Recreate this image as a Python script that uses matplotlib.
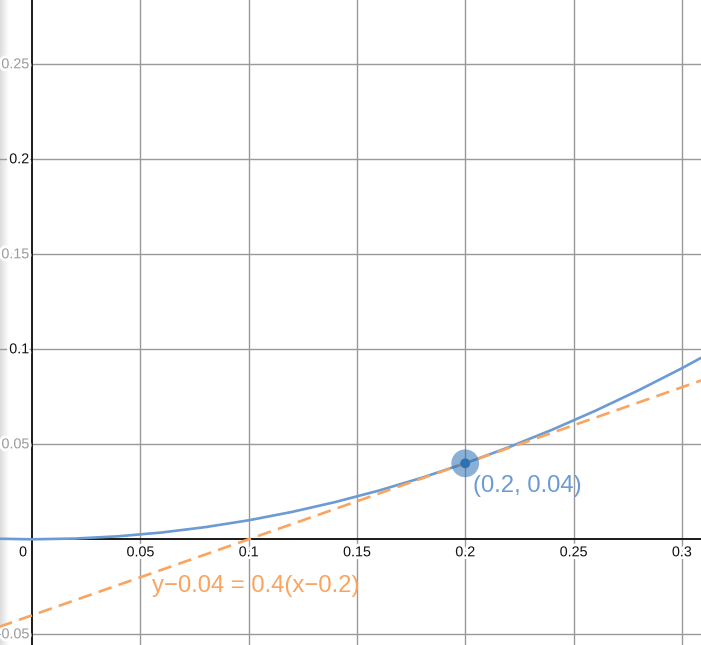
import matplotlib.pyplot as plt
import matplotlib.patheffects as pe
import numpy as np

curve_x = [-0.02, 0.0, 0.02, 0.04, 0.06, 0.08, 0.10, 0.12, 0.14, 0.16,
           0.18, 0.20, 0.22, 0.24, 0.26, 0.28, 0.30, 0.32]
curve_y = [0.0004, 0.0, 0.0004, 0.0016, 0.0036, 0.0064, 0.0100, 0.0144, 0.0196, 0.0256,
           0.0324, 0.0400, 0.0484, 0.0576, 0.0676, 0.0784, 0.0900, 0.1024]

# tangent line endpoints
tangent_x = [-0.02, 0.32]
tangent_y = [-0.048, 0.088]

point_x, point_y = 0.2, 0.04
point_label = "(0.2, 0.04)"
tangent_label = "y\u22120.04 = 0.4(x\u22120.2)"

x_ticks = [0.05, 0.1, 0.15, 0.2, 0.25, 0.3]
x_tick_labels = ["0.05", "0.1", "0.15", "0.2", "0.25", "0.3"]
y_ticks = [-0.05, 0.05, 0.1, 0.15, 0.2, 0.25]
y_tick_labels = ["-0.05", "0.05", "0.1", "0.15", "0.2", "0.25"]
y_label_colors = ["#9a9a9a", "#9a9a9a", "#111111", "#9a9a9a", "#111111", "#9a9a9a"]

BLUE = "#6b9bd2"
DARK_BLUE = "#2d70b3"
ORANGE = "#f9a460"

plt.rcParams["font.family"] = ["Liberation Sans", "DejaVu Sans"]

W, H = 701, 645
fig = plt.figure(figsize=(W / 100, H / 100), dpi=100, facecolor="white")

# soft shadow on the left edge
shade = fig.add_axes([0, 0, 9 / W, 1], zorder=0)
grad = np.linspace(0.86, 1.0, 50).reshape(1, -1)
shade.imshow(grad, aspect="auto", cmap="gray", vmin=0, vmax=1, extent=[0, 1, 0, 1])
shade.axis("off")

ax = fig.add_axes([0, 0, 1, 1], zorder=1)
ax.set_facecolor("none")
x0, x1 = -32 / 2166, (W - 32) / 2166
y0, y1 = -(H - 539.3) / 1900, 539.3 / 1900
ax.set_xlim(x0, x1)
ax.set_ylim(y0, y1)
for s in ax.spines.values():
    s.set_visible(False)
ax.set_xticks([])
ax.set_yticks([])

# grid
for gx in x_ticks:
    ax.axvline(gx, color="#999999", lw=1.0, zorder=1)
for gy in y_ticks:
    ax.axhline(gy, color="#999999", lw=1.0, zorder=1)

# axes
ax.axhline(0, color="#1a1a1a", lw=1.4, zorder=2)
ax.axvline(0, color="#1a1a1a", lw=1.4, zorder=2)

halo = [pe.withStroke(linewidth=4, foreground="white")]
px = 1 / 2166
py = 1 / 1900
for t, lab in zip(x_ticks, x_tick_labels):
    ax.text(t, -13 * py, lab, ha="center", va="center", fontsize=10.3,
            color="#111111", path_effects=halo, zorder=3)
ax.text(-9 * px, -13 * py, "0", ha="center", va="center", fontsize=10.3,
        color="#111111", path_effects=halo, zorder=3)
for t, lab, c in zip(y_ticks, y_tick_labels, y_label_colors):
    ax.text(-3 * px, t, lab, ha="right", va="center", fontsize=10.3,
            color=c, path_effects=halo, zorder=3)

# curves
ax.plot(curve_x, curve_y, color=BLUE, lw=1.9, zorder=4, solid_capstyle="round")
ax.plot(tangent_x, tangent_y, color=ORANGE, lw=1.9, dashes=(5.2, 2.8), zorder=5)

# point
ax.scatter([point_x], [point_y], s=400, color=DARK_BLUE, alpha=0.55,
           edgecolors="none", zorder=6)
ax.scatter([point_x], [point_y], s=50, color=DARK_BLUE, edgecolors="none", zorder=7)

ax.text(point_x + 8 * px, point_y - 23 * py, point_label, ha="left", va="center",
        fontsize=17.2, color=BLUE, zorder=8)
ax.text(0.0554, -0.0246, tangent_label, ha="left", va="center",
        fontsize=17.2, color=ORANGE, zorder=8)

fig.savefig("out.png", dpi=100)
